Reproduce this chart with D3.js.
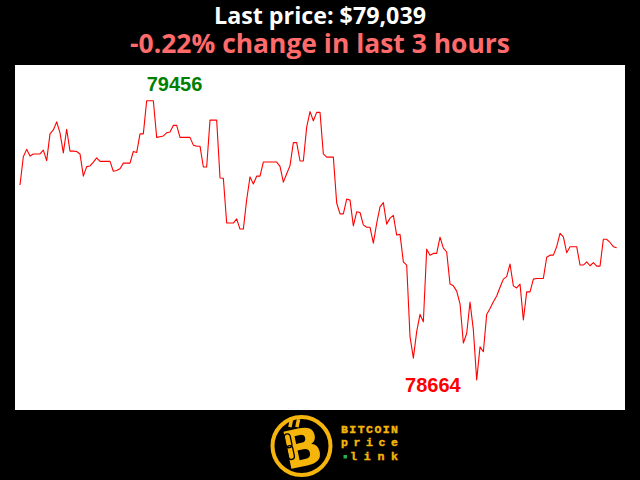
<!DOCTYPE html>
<html>
<head>
<meta charset="utf-8">
<script src="https://cdn.jsdelivr.net/npm/d3@7/dist/d3.min.js"></script>
<style>
  html, body { margin: 0; padding: 0; background: #000; }
  svg { display: block; }
</style>
</head>
<body>
<svg id="chart" width="640" height="480"></svg>
<script>
// ---- data ----
const titleText = "Last price: $79,039";
const subtitleText = "-0.22% change in last 3 hours";
const maxLabel = "79456";
const minLabel = "78664";
// one price per minute over the last 3 hours (180 points)
const prices = [
  79217, 79297, 79318, 79299, 79305, 79305, 79305, 79316, 79286, 79362,
  79373, 79396, 79365, 79308, 79375, 79313, 79313, 79312, 79305, 79242,
  79269, 79271, 79282, 79294, 79284, 79284, 79284, 79284, 79256, 79258,
  79263, 79279, 79279, 79279, 79312, 79309, 79362, 79362, 79456, 79456,
  79456, 79352, 79354, 79356, 79365, 79367, 79386, 79386, 79352, 79352,
  79352, 79352, 79330, 79327, 79327, 79268, 79268, 79401, 79401, 79401,
  79237, 79236, 79109, 79109, 79109, 79121, 79092, 79092, 79175, 79240,
  79220, 79242, 79242, 79282, 79282, 79282, 79282, 79282, 79270, 79225,
  79249, 79272, 79337, 79337, 79285, 79285, 79381, 79425, 79399, 79423,
  79423, 79305, 79296, 79296, 79296, 79166, 79135, 79135, 79177, 79174,
  79101, 79141, 79139, 79104, 79097, 79097, 79052, 79108, 79155, 79167,
  79106, 79123, 79131, 79075, 79077, 78999, 78990, 78787, 78726, 78801,
  78850, 78829, 79035, 79018, 79023, 79023, 79069, 79038, 79027, 78936,
  78931, 78916, 78880, 78769, 78796, 78885, 78806, 78664, 78758, 78744,
  78850, 78867, 78886, 78902, 78927, 78950, 78957, 78993, 78931, 78925,
  78936, 78834, 78914, 78914, 78950, 78952, 78952, 78952, 79012, 79018,
  79018, 79042, 79080, 79070, 79025, 79042, 79042, 79042, 78990, 78990,
  78999, 78988, 78997, 78987, 78987, 79063, 79063, 79054, 79042, 79039
];
const logoLines = ["BITCOIN", "price", "link"];

// ---- layout ----
const W = 640, H = 480;
const plot = { left: 15, top: 65, right: 625, bottom: 410 };
const svg = d3.select("#chart");

svg.append("rect").attr("x", 0).attr("y", 0).attr("width", W).attr("height", H).attr("fill", "#000");

function fitText(sel, target) {
  const w = sel.node().getComputedTextLength();
  if (w > 0) {
    const fs = parseFloat(sel.attr("font-size"));
    sel.attr("font-size", (fs * target / w).toFixed(2));
  }
}

// titles
const t1 = svg.append("text")
  .attr("x", 320).attr("y", 23.5)
  .attr("text-anchor", "middle")
  .attr("font-family", "'Open Sans', 'Noto Sans', sans-serif")
  .attr("font-weight", "bold")
  .attr("font-size", 23)
  .attr("fill", "#ffffff")
  .text(titleText);
fitText(t1, 212);

const t2 = svg.append("text")
  .attr("x", 320).attr("y", 53)
  .attr("text-anchor", "middle")
  .attr("font-family", "'Open Sans', 'Noto Sans', sans-serif")
  .attr("font-weight", "bold")
  .attr("font-size", 27)
  .attr("fill", "#ff6b6b")
  .text(subtitleText);
fitText(t2, 380);

// plot background
svg.append("rect")
  .attr("x", plot.left).attr("y", plot.top)
  .attr("width", plot.right - plot.left).attr("height", plot.bottom - plot.top)
  .attr("fill", "#ffffff");

const x = d3.scaleLinear().domain([0, prices.length - 1]).range([20, 616.7]);
const yMin = d3.min(prices), yMax = d3.max(prices);
const y = d3.scaleLinear().domain([yMin, yMax]).range([380, 100.7]);

const line = d3.line().x((d, i) => x(i)).y(d => y(d));
svg.append("path")
  .datum(prices)
  .attr("d", line)
  .attr("fill", "none")
  .attr("stroke", "#ff0000")
  .attr("stroke-width", 1.1)
  .attr("stroke-linejoin", "round");

// max / min labels
const iMax = prices.indexOf(yMax);
const iMin = prices.indexOf(yMin);
svg.append("text")
  .attr("x", x(iMax)).attr("y", y(yMax) - 10)
  .attr("font-family", "'Liberation Sans', Arial, sans-serif")
  .attr("font-weight", "bold")
  .attr("font-size", 20)
  .attr("fill", "#008000")
  .text(maxLabel);
svg.append("text")
  .attr("x", x(iMin) - 16).attr("y", y(yMin) + 11.5)
  .attr("text-anchor", "end")
  .attr("font-family", "'Liberation Sans', Arial, sans-serif")
  .attr("font-weight", "bold")
  .attr("font-size", 20)
  .attr("fill", "#ff0000")
  .text(minLabel);

// logo
const gold = "#f5b50a";
const logo = svg.append("g");
logo.append("circle").attr("cx", 301.5).attr("cy", 446).attr("r", 29)
  .attr("fill", "#000").attr("stroke", gold).attr("stroke-width", 4);
// bitcoin tick marks
logo.append("rect").attr("x", 289).attr("y", 419).attr("width", 3.5).attr("height", 8).attr("fill", gold)
  .attr("transform", "rotate(12 290 423)");
logo.append("rect").attr("x", 296).attr("y", 419).attr("width", 3.5).attr("height", 8).attr("fill", gold)
  .attr("transform", "rotate(12 297 423)");
logo.append("text")
  .attr("x", 302).attr("y", 466)
  .attr("text-anchor", "middle")
  .attr("font-family", "'DejaVu Sans', sans-serif")
  .attr("font-weight", "bold")
  .attr("font-size", 52)
  .attr("fill", gold)
  .attr("transform", "rotate(-12 302 446)")
  .text("B");
// chain link in the stem
logo.append("rect").attr("x", 286.5).attr("y", 431).attr("width", 6).attr("height", 14)
  .attr("rx", 3).attr("fill", "none").attr("stroke", "#000").attr("stroke-width", 1.3)
  .attr("transform", "rotate(-12 302 446)");
logo.append("rect").attr("x", 286.5).attr("y", 443).attr("width", 6).attr("height", 14)
  .attr("rx", 3).attr("fill", "none").attr("stroke", "#000").attr("stroke-width", 1.3)
  .attr("transform", "rotate(-12 302 446)");

const logoY = [433, 446, 460];
const logoX = [341, 341, 350];
const logoW = [57, 57, 48];
logoLines.forEach((t, k) => {
  logo.append("text")
    .attr("x", logoX[k]).attr("y", logoY[k])
    .attr("font-family", "'Liberation Mono', 'DejaVu Sans Mono', monospace")
    .attr("font-weight", "bold")
    .attr("font-size", 11.5)
    .attr("textLength", logoW[k])
    .attr("lengthAdjust", "spacing")
    .attr("fill", gold)
    .attr("stroke", gold)
    .attr("stroke-width", 0.4)
    .text(t);
});
logo.append("rect").attr("x", 343.5).attr("y", 455).attr("width", 3.5).attr("height", 3.5).attr("fill", "#22b14c");
</script>
</body>
</html>
